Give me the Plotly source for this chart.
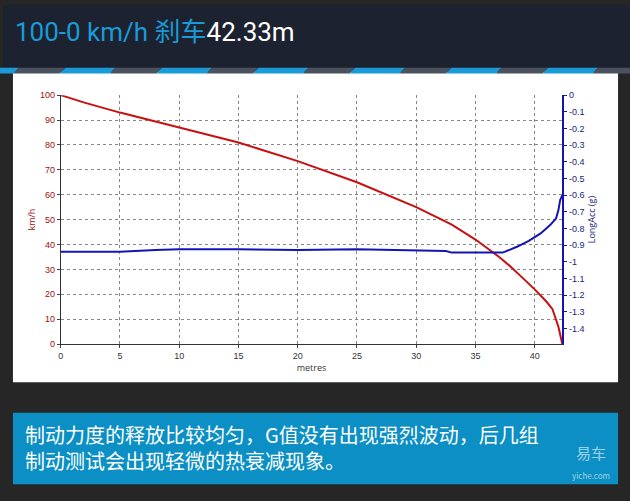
import plotly.graph_objects as go

dist = [0, 2, 5, 8, 10, 15, 20, 25, 30, 33, 35, 37, 38, 39, 40, 41, 41.5, 42, 42.2, 42.33]
speed = [100, 97, 93, 89.5, 87, 81, 73.5, 65, 55, 48, 42, 35, 31, 26.5, 22, 17, 14, 7, 3, 0]
acc_d = [0, 5, 8, 10, 15, 20, 25, 30, 32.5, 33, 37.3, 38.5, 39.5, 40.5, 41.3, 41.8, 42.0, 42.15, 42.33]
acc_g = [-0.94, -0.94, -0.93, -0.925, -0.925, -0.93, -0.925, -0.93, -0.935, -0.945, -0.945, -0.91, -0.875, -0.83, -0.78, -0.74, -0.69, -0.63, -0.6]
x_ticks = [0, 5, 10, 15, 20, 25, 30, 35, 40]
y_ticks = list(range(0, 101, 10))
y2_ticks = [round(-0.1 * i, 1) for i in range(15)]

W, H = 630, 501
def px(x): return x / W
def py(y): return 1 - y / H

fig = go.Figure()
fig.add_trace(go.Scatter(x=dist, y=speed, mode="lines", line=dict(color="#c81010", width=2), showlegend=False))
fig.add_trace(go.Scatter(x=acc_d, y=acc_g, mode="lines", line=dict(color="#1414b4", width=2), yaxis="y2", showlegend=False))

shapes = [
    dict(type="rect", xref="paper", yref="paper", x0=0, x1=1, y0=0, y1=1, fillcolor="#262626", line_width=0, layer="below"),
    dict(type="rect", xref="paper", yref="paper", x0=0, x1=1, y0=py(64), y1=1, fillcolor="#1c2230", line_width=0, layer="below"),
    dict(type="rect", xref="paper", yref="paper", x0=px(10), x1=px(618), y0=py(385), y1=py(68), fillcolor="white", line_width=0, layer="below"),
    dict(type="rect", xref="paper", yref="paper", x0=px(10), x1=px(618), y0=py(489), y1=py(416), fillcolor="#0b8fc4", line_width=0, layer="below"),
]
for i in range(7):
    x0 = -40 + i * 97
    shapes.append(dict(type="path", xref="paper", yref="paper",
        path=f"M {px(x0)} {py(70)} L {px(x0+50)} {py(70)} L {px(x0+56)} {py(64)} L {px(x0+6)} {py(64)} Z",
        fillcolor="#1a9ad6", line_width=0, layer="below"))
    shapes.append(dict(type="path", xref="paper", yref="paper",
        path=f"M {px(x0+50)} {py(70)} L {px(x0+97)} {py(70)} L {px(x0+103)} {py(64)} L {px(x0+56)} {py(64)} Z",
        fillcolor="#4a5260", line_width=0, layer="below"))

fig.update_layout(
    width=W, height=H, margin=dict(l=0, r=0, t=0, b=0),
    paper_bgcolor="#262626", plot_bgcolor="white",
    shapes=shapes,
    xaxis=dict(domain=[px(58), px(562)], range=[0, 42.33], tickvals=x_ticks, showgrid=True,
               gridcolor="#888", griddash="3px,3px", gridwidth=1, zeroline=False, showline=True, linecolor="#333",
               ticks="outside", ticklen=3, tickfont=dict(size=9, color="#333", family="Arial"),
               title=dict(text="metres", font=dict(size=9, color="#333"), standoff=2)),
    yaxis=dict(domain=[py(346), py(92)], range=[0, 100], tickvals=y_ticks, showgrid=True,
               gridcolor="#888", griddash="3px,3px", zeroline=False, showline=True, linecolor="#333",
               ticks="outside", ticklen=3, tickfont=dict(size=9, color="#a01010", family="Arial"),
               title=dict(text="km/h", font=dict(size=9, color="#a01010"), standoff=2)),
    yaxis2=dict(overlaying="y", side="right", range=[-1.494, 0], tickvals=y2_ticks,
                ticktext=[("0" if v == 0 else f"{v:g}") for v in y2_ticks], showgrid=False, zeroline=False,
                showline=True, linecolor="#1414b4", linewidth=2, ticks="outside", ticklen=3, tickcolor="#1414b4",
                tickfont=dict(size=9, color="#1a1a80", family="Arial"),
                title=dict(text="LongAcc (g)", font=dict(size=9, color="#1a1a80"), standoff=2)),
    annotations=[
        dict(xref="paper", yref="paper", x=px(10), y=py(28), xanchor="left", yanchor="middle", showarrow=False,
             text="<span style='color:#1a9ad6'>100-0 km/h 刹车</span><span style='color:white'>42.33m</span>",
             font=dict(size=26, family="Roboto, Noto Sans CJK SC")),
        dict(xref="paper", yref="paper", x=px(20), y=py(452), xanchor="left", yanchor="middle", showarrow=False, align="left",
             text="制动力度的释放比较均匀，G值没有出现强烈波动，后几组<br>制动测试会出现轻微的热衰减现象。",
             font=dict(size=20, color="white", family="Noto Sans CJK SC")),
        dict(xref="paper", yref="paper", x=px(612), y=py(466), xanchor="right", yanchor="middle", showarrow=False,
             text="易车<br><span style='font-size:8px'>yiche.com</span>",
             font=dict(size=15, color="rgba(255,255,255,0.6)", family="Noto Sans CJK SC")),
    ],
)
fig.write_html("out.html", config={"displayModeBar": False},
               post_script="document.body.style.margin='0';document.body.style.overflow='hidden';")
